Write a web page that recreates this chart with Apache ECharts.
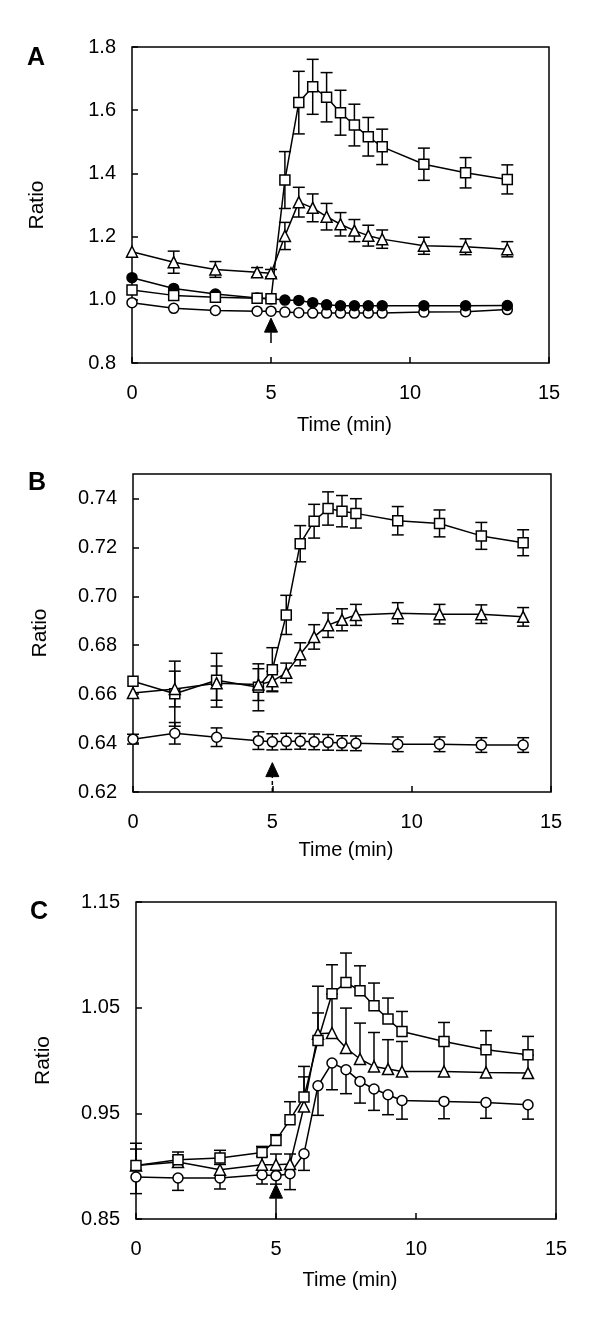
<!DOCTYPE html>
<html>
<head>
<meta charset="utf-8">
<script src="https://cdn.jsdelivr.net/npm/echarts@6/dist/echarts.min.js"></script>
<style>
html,body{margin:0;padding:0;background:#fff;}
#chart{width:600px;height:1324px;}
</style>
</head>
<body>
<div id="chart"></div>
<script>
// ---------- Panel A ----------
const timeA = [0,1.5,3,4.5,5,5.5,6,6.5,7,7.5,8,8.5,9,10.5,12,13.5];
const aSquare = [1.031,1.014,1.008,1.005,1.003,1.379,1.624,1.674,1.641,1.592,1.553,1.516,1.484,1.429,1.402,1.381];
const aSquareErr = [0,0,0,0,0,0.09,0.099,0.087,0.078,0.071,0.066,0.061,0.056,0.051,0.048,0.046];
const aTriangle = [1.152,1.119,1.096,1.087,1.084,1.202,1.309,1.291,1.263,1.239,1.219,1.203,1.192,1.171,1.168,1.160];
const aTriangleErr = [0,0.035,0.025,0.015,0.012,0.043,0.047,0.044,0.042,0.037,0.035,0.033,0.029,0.027,0.025,0.024];
const aFilled = [1.070,1.036,1.018,1.006,1.003,0.999,0.998,0.991,0.984,0.981,0.981,0.981,0.981,0.981,0.981,0.982];
const aOpen = [0.991,0.973,0.966,0.964,0.964,0.961,0.959,0.958,0.958,0.958,0.958,0.958,0.958,0.961,0.962,0.969];

// ---------- Panel B ----------
const timeB = [0,1.5,3,4.5,5,5.5,6,6.5,7,7.5,8,9.5,11,12.5,14];
const bSquare = [0.6653,0.6602,0.6657,0.6628,0.6700,0.6924,0.7215,0.7307,0.7359,0.7348,0.7339,0.7309,0.7298,0.7247,0.7219];
const bSquareErr = [0,0.0133,0.011,0.0096,0.009,0.008,0.0074,0.0069,0.0068,0.0064,0.006,0.0058,0.0055,0.0055,0.0053];
const bTriangle = [0.6605,0.6621,0.6645,0.6639,0.6653,0.6687,0.6763,0.6834,0.6882,0.6904,0.6924,0.6931,0.6927,0.6927,0.6916];
const bTriangleErr = [0,0.0073,0.007,0.0065,0.004,0.004,0.0047,0.005,0.005,0.0045,0.0043,0.0043,0.004,0.0038,0.0038];
const bCircle = [0.6416,0.6440,0.6424,0.6410,0.6405,0.6407,0.6407,0.6405,0.6403,0.6400,0.6399,0.6395,0.6395,0.6392,0.6392];
const bCircleErr = [0.002,0.0044,0.0038,0.0036,0.0033,0.0033,0.0032,0.0032,0.0032,0.003,0.003,0.003,0.003,0.003,0.003];

// ---------- Panel C ----------
const timeC = [0,1.5,3,4.5,5,5.5,6,6.5,7,7.5,8,8.5,9,9.5,11,12.5,14];
const cSquare = [0.9007,0.9061,0.9077,0.9130,0.9244,0.944,0.9654,1.019,1.0632,1.0739,1.066,1.0518,1.0392,1.0275,1.018,1.0102,1.0055];
const cSquareErrUp = [0.021,0.0073,0.0073,0.0057,0.0054,0.017,0.029,0.026,0.0274,0.0278,0.0236,0.0215,0.0199,0.0189,0.018,0.018,0.0173];
const cTriangle = [0.9007,0.9039,0.8966,0.9014,0.9014,0.902,0.9565,1.0253,1.026,1.0118,1.0014,0.9944,0.9919,0.9896,0.9896,0.9887,0.9881];
const cTriangleErrUp = [0.0155,0.005,0.005,0.008,0.0101,0.0095,0.028,0.045,0.037,0.0378,0.034,0.0321,0.0278,0.0284,0.028,0.0215,0.017];
const cCircle = [0.8897,0.8888,0.8888,0.8919,0.8910,0.8929,0.9118,0.9761,0.9976,0.9913,0.9802,0.973,0.9676,0.9622,0.9613,0.9603,0.9581];
const cCircleErrDown = [0.0157,0.0117,0.0104,0.0088,0.008,0.0151,0.0158,0.028,0.0253,0.0227,0.0205,0.0202,0.0189,0.0177,0.0164,0.015,0.0136];

// ---------- Arrows (stimulus at t = 5 min) ----------
const arrowX = [5,5,5];
const arrowBase = [0.863,0.62,0.85];
const arrowTip = [0.942,0.632,0.883];

// ---------- Axes ----------
const xTicks = [0,5,10,15];
const yMinA = 0.8, yMaxA = 1.8, yStepA = 0.2;
const yMinB = 0.62, yMaxB = 0.75, yStepB = 0.02;
const yMinC = 0.85, yMaxC = 1.15, yStepC = 0.1;

const FONT = '"Liberation Sans", Arial, sans-serif';
const zeros = n => new Array(n).fill(0);

function pts(t, v){ return t.map((x,i)=>[x, v[i]]); }
function errData(t, v, up, down){ return t.map((x,i)=>[x, v[i]-down[i], v[i]+up[i], v[i]]); }

function errRender(params, api){
  const x = api.value(0), lo = api.value(1), hi = api.value(2), mid = api.value(3);
  const pLo = api.coord([x, lo]), pHi = api.coord([x, hi]);
  const w = 6;
  const st = {stroke:'#000', lineWidth:1.5};
  const ch = [];
  if (hi - lo > 1e-9) {
    ch.push({type:'line', shape:{x1:pLo[0],y1:pLo[1],x2:pHi[0],y2:pHi[1]}, style:st});
    if (hi - mid > 1e-9) ch.push({type:'line', shape:{x1:pHi[0]-w,y1:pHi[1],x2:pHi[0]+w,y2:pHi[1]}, style:st});
    if (mid - lo > 1e-9) ch.push({type:'line', shape:{x1:pLo[0]-w,y1:pLo[1],x2:pLo[0]+w,y2:pLo[1]}, style:st});
  }
  return {type:'group', children:ch};
}

function arrowRender(dashed){
  return function(params, api){
    const x = api.value(0), b = api.value(1), t = api.value(2);
    const pB = api.coord([x,b]), pT = api.coord([x,t]);
    const hh = 14, hw = 6.5;
    return {type:'group', children:[
      {type:'line', shape:{x1:pB[0],y1:pB[1],x2:pT[0],y2:pT[1]+hh}, style:{stroke:'#000', lineWidth:1.5, lineDash: dashed ? [4,3] : null}},
      {type:'polygon', shape:{points:[[pT[0],pT[1]],[pT[0]-hw,pT[1]+hh],[pT[0]+hw,pT[1]+hh]]}, style:{fill:'#000', stroke:'#000', lineWidth:1}}
    ]};
  };
}

function lineSeries(idx, data, symbol, fill, size){
  return {type:'line', xAxisIndex:idx, yAxisIndex:idx, data:data, symbol:symbol, symbolSize:size,
    showAllSymbol:true, z:3, animation:false,
    lineStyle:{color:'#000', width:1.5},
    itemStyle:{color:fill, borderColor:'#000', borderWidth:1.5, opacity:1}};
}
function errSeries(idx, data){
  return {type:'custom', xAxisIndex:idx, yAxisIndex:idx, data:data, renderItem:errRender, z:2, animation:false, silent:true};
}
function arrowSeries(idx, dashed){
  return {type:'custom', xAxisIndex:idx, yAxisIndex:idx, data:[[arrowX[idx], arrowBase[idx], arrowTip[idx]]],
    renderItem:arrowRender(dashed), z:4, animation:false, silent:true};
}

function xAxisDef(idx, gap){
  return {type:'value', gridIndex:idx, min:xTicks[0], max:xTicks[xTicks.length-1], interval:xTicks[1]-xTicks[0],
    axisLine:{show:false}, splitLine:{show:false},
    axisTick:{show:true, inside:true, length:6, lineStyle:{color:'#000', width:1.5}},
    axisLabel:{color:'#000', fontSize:20, fontFamily:FONT, margin:20},
    name:'Time (min)', nameLocation:'middle', nameGap:gap,
    nameTextStyle:{color:'#000', fontSize:20, fontFamily:FONT, padding:[0,0,0,8]}};
}
function yAxisDef(idx, min, max, step, dec, gap){
  return {type:'value', gridIndex:idx, min:min, max:max, interval:step,
    axisLine:{show:false}, splitLine:{show:false},
    axisTick:{show:true, inside:true, length:6, lineStyle:{color:'#000', width:1.5}},
    axisLabel:{color:'#000', fontSize:20, fontFamily:FONT, margin:16, showMaxLabel: idx===1 ? false : true,
      formatter: v => v.toFixed(dec)},
    name:'Ratio', nameLocation:'middle', nameGap:gap, nameRotate:90,
    nameTextStyle:{color:'#000', fontSize:21, fontFamily:FONT}};
}

const gridStyle = {show:true, borderColor:'#000', borderWidth:1.5, backgroundColor:'transparent'};

const option = {
  backgroundColor:'#fff',
  animation:false,
  grid:[
    Object.assign({left:132, top:47, width:417, height:316}, gridStyle),
    Object.assign({left:133, top:474, width:418, height:318}, gridStyle),
    Object.assign({left:136, top:902, width:420, height:317}, gridStyle)
  ],
  xAxis:[xAxisDef(0,52), xAxisDef(1,48), xAxisDef(2,51)],
  yAxis:[yAxisDef(0,yMinA,yMaxA,yStepA,1,84), yAxisDef(1,yMinB,yMaxB,yStepB,2,82), yAxisDef(2,yMinC,yMaxC,yStepC,2,82)],
  graphic:[
    {type:'text', left:27, top:46, style:{text:'A', font:'bold 25px ' + FONT, fill:'#000'}},
    {type:'text', left:28, top:471, style:{text:'B', font:'bold 25px ' + FONT, fill:'#000'}},
    {type:'text', left:30, top:900, style:{text:'C', font:'bold 25px ' + FONT, fill:'#000'}}
  ],
  series:[
    // A
    errSeries(0, errData(timeA, aSquare, aSquareErr, aSquareErr)),
    errSeries(0, errData(timeA, aTriangle, aTriangleErr, aTriangleErr)),
    lineSeries(0, pts(timeA, aOpen), 'circle', '#fff', 10),
    lineSeries(0, pts(timeA, aFilled), 'circle', '#000', 10),
    lineSeries(0, pts(timeA, aSquare), 'rect', '#fff', 10),
    lineSeries(0, pts(timeA, aTriangle), 'triangle', '#fff', 11),
    arrowSeries(0, false),
    // B
    errSeries(1, errData(timeB, bSquare, bSquareErr, bSquareErr)),
    errSeries(1, errData(timeB, bTriangle, bTriangleErr, bTriangleErr)),
    errSeries(1, errData(timeB, bCircle, bCircleErr, bCircleErr)),
    lineSeries(1, pts(timeB, bCircle), 'circle', '#fff', 10),
    lineSeries(1, pts(timeB, bSquare), 'rect', '#fff', 10),
    lineSeries(1, pts(timeB, bTriangle), 'triangle', '#fff', 11),
    arrowSeries(1, true),
    // C
    errSeries(2, errData(timeC, cSquare, cSquareErrUp, zeros(timeC.length))),
    errSeries(2, errData(timeC, cTriangle, cTriangleErrUp, zeros(timeC.length))),
    errSeries(2, errData(timeC, cCircle, zeros(timeC.length), cCircleErrDown)),
    lineSeries(2, pts(timeC, cCircle), 'circle', '#fff', 10),
    lineSeries(2, pts(timeC, cTriangle), 'triangle', '#fff', 11),
    lineSeries(2, pts(timeC, cSquare), 'rect', '#fff', 10),
    arrowSeries(2, false)
  ]
};

const chart = echarts.init(document.getElementById('chart'), null, {renderer:'canvas'});
chart.setOption(option);
</script>
</body>
</html>
